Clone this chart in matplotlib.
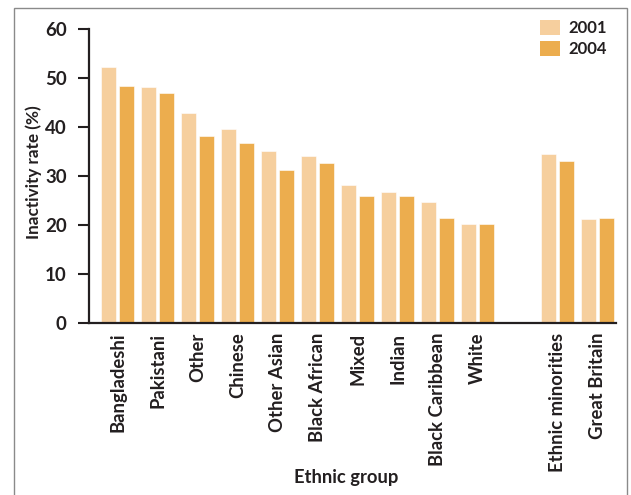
import numpy as np
import matplotlib
matplotlib.use("Agg")
import matplotlib.pyplot as plt
from matplotlib.patches import Rectangle, Patch

# data
groups = ["Bangladeshi", "Pakistani", "Other", "Chinese", "Other Asian",
          "Black African", "Mixed", "Indian", "Black Caribbean", "White",
          "Ethnic minorities", "Great Britain"]
rate_2001 = [52.2, 48.3, 42.8, 39.6, 35.1, 34.2, 28.2, 26.8, 24.8, 20.3, 34.6, 21.2]
rate_2004 = [48.5, 46.9, 38.3, 36.7, 31.2, 32.7, 25.9, 26.0, 21.4, 20.2, 33.0, 21.4]
years = ["2001", "2004"]

light = "#F6CF9E"
dark = "#ECAD4E"
ink = "#231F20"

plt.rcParams["font.family"] = ["Lato", "DejaVu Sans"]

fig = plt.figure(figsize=(6.31, 4.95), dpi=100)
ax = fig.add_axes([89 / 631, 1 - 323 / 495, (616 - 89) / 631, (323 - 29.3) / 495])

# one empty slot between the ethnic groups and the two summary bars
pos = np.array(list(range(10)) + [11, 12])
w = 0.375
ax.bar(pos - 0.23, rate_2001, width=w, color=light, edgecolor="white", linewidth=0.4)
ax.bar(pos + 0.23, rate_2004, width=w, color=dark, edgecolor="white", linewidth=0.4)

ax.set_xlim(-0.7125, 12.46)
ax.set_ylim(0, 60)
ax.set_yticks(range(0, 61, 10))
ax.set_xticks(pos)
ax.set_xticklabels(groups, rotation=90, fontsize=13.3, fontweight="bold", color=ink)
ax.tick_params(axis="x", length=0, pad=7)
ax.tick_params(axis="y", length=8, width=1.5, color=ink, labelsize=13.5,
               labelcolor=ink, pad=8)
for lab in ax.get_yticklabels():
    lab.set_fontweight("bold")

for side in ["top", "right"]:
    ax.spines[side].set_visible(False)
for side in ["left", "bottom"]:
    ax.spines[side].set_color(ink)
    ax.spines[side].set_linewidth(1.6)

fig.text(34 / 631, 1 - 172 / 495, "Inactivity rate (%)", rotation=90,
         ha="center", va="center", fontsize=12.3, fontweight="bold", color=ink)
fig.text(346 / 631, 1 - 477 / 495, "Ethnic group", ha="center", va="center",
         fontsize=13.2, fontweight="bold", color=ink)

handles = [Patch(facecolor=light, label=years[0]), Patch(facecolor=dark, label=years[1])]
leg = fig.legend(handles=handles, loc="upper right", bbox_to_anchor=(622 / 631, 1 - 5 / 495),
                 frameon=False, handlelength=1.2, handleheight=1.0, handletextpad=0.5,
                 labelspacing=0.3, prop={"weight": "bold", "size": 12})
for t in leg.get_texts():
    t.set_color(ink)

# grey frame round the figure, open at the bottom
fig.patches.append(Rectangle((14 / 631, -0.05), (627 - 14) / 631, 1 - 8 / 495 + 0.05,
                             transform=fig.transFigure, fill=False,
                             edgecolor="#8a8a8a", linewidth=1.0))

fig.savefig("out.png", dpi=100)
